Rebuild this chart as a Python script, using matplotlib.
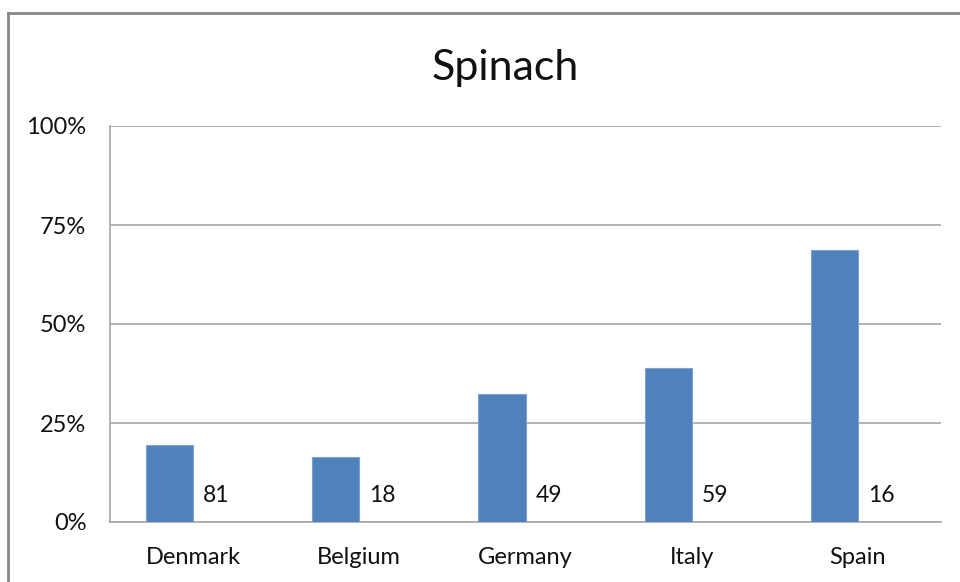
import matplotlib
matplotlib.use("Agg")
import matplotlib.pyplot as plt
from matplotlib.lines import Line2D
from matplotlib.ticker import FuncFormatter

categories = ["Denmark", "Belgium", "Germany", "Italy", "Spain"]
values = [19.4, 16.5, 32.4, 38.9, 68.7]
counts = ["81", "18", "49", "59", "16"]
yticks = [0, 25, 50, 75, 100]

plt.rcParams['font.family'] = ['Lato', 'DejaVu Sans']

fig = plt.figure(figsize=(9.6, 5.82), dpi=100)
ax = fig.add_axes([110/960, 1-522/582, 831/960, 396/582])

x = list(range(len(categories)))
ax.bar(x, values, width=-0.283, align='edge', color='#4f81bd',
       edgecolor='#7ea3d2', linewidth=0.8, zorder=3)
for xi, c in zip(x, counts):
    ax.text(xi + 0.06, 6.6, c, ha='left', va='center', fontsize=16.5,
            color='#111111', zorder=4)

ax.set_xlim(-0.5, len(categories) - 0.5)
ax.set_ylim(0, 100)
ax.set_yticks(yticks)
ax.yaxis.set_major_formatter(FuncFormatter(lambda v, p: f"{int(v)}%"))
ax.set_xticks(x)
ax.set_xticklabels(categories)
ax.tick_params(axis='both', length=0, labelsize=17, colors='#111111')
ax.tick_params(axis='y', pad=17)
ax.tick_params(axis='x', pad=18)
ax.grid(axis='y', color='#a6a6a6', linewidth=1.2, zorder=0)
for s in ['top', 'right']:
    ax.spines[s].set_visible(False)
for s in ['left', 'bottom']:
    ax.spines[s].set_color('#a6a6a6')
    ax.spines[s].set_linewidth(1.2)

fig.text(505/960, 1-68/582, "Spinach", ha='center', va='center', fontsize=31, color='#111111')

# outer chart border
fig.add_artist(Line2D([8/960, 8/960], [0, 1-13/582], transform=fig.transFigure,
                      color='#888888', linewidth=2))
fig.add_artist(Line2D([8/960, 1], [1-13/582, 1-13/582], transform=fig.transFigure,
                      color='#888888', linewidth=2))

fig.savefig("out.png", dpi=100)
